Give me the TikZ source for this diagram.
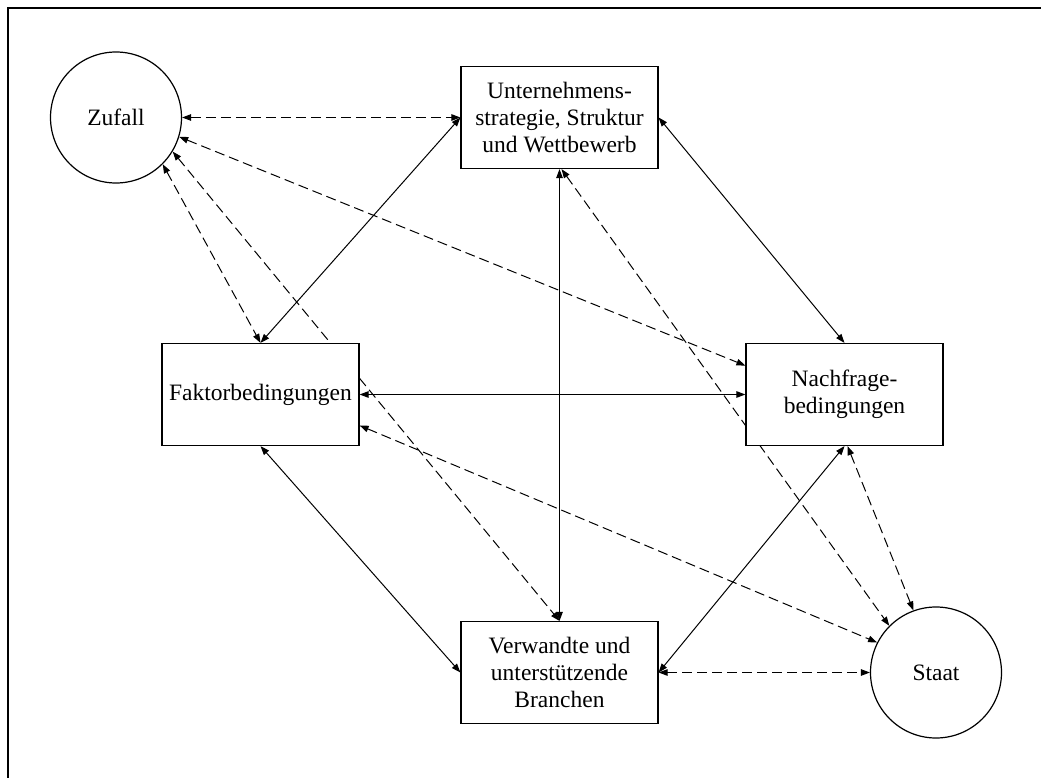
\documentclass[tikz,border=0pt]{standalone}
\usepackage{fontspec}
\setmainfont{Liberation Serif}
\usetikzlibrary{arrows.meta,calc}
\pgfdeclarelayer{links}
\pgfsetlayers{links,main}

\begin{document}
\begin{tikzpicture}[x=1pt,y=-1pt,
  label font/.style={font=\fontsize{23.5}{27}\selectfont},
  box/.style={draw, line width=1.2pt, fill=white, minimum width=197pt,
    minimum height=102pt, inner sep=0pt, align=center, label font},
  disc/.style={draw, circle, line width=1.2pt, fill=white,
    minimum size=131pt, inner sep=0pt, label font},
  tip/.tip={Triangle[length=9pt,width=6.5pt]},
  link/.style={line width=1pt, tip-tip},
  dlink/.style={link, dash pattern=on 10pt off 5pt}]

\useasboundingbox (0,0) rectangle (1041,778);

% frame
\draw[line width=1.5pt] (1041,8) -- (8,8) -- (8,778);

% factors of the diamond
\node[disc] (zuf) at (116,117.5) {Zufall};
\node[box] (unt) at (559.5,117.5) {Unternehmens-\\strategie, Struktur\\und Wettbewerb};
\node[box] (fak) at (260.5,394.5) {Faktorbedingungen};
\node[box] (nach) at (844.5,394.5) {Nachfrage-\\bedingungen};
\node[box] (ver) at (559.5,672.5) {Verwandte und\\unterstützende\\Branchen};
\node[disc] (sta) at (936,672.5) {Staat};

% attachment points off the standard anchors
\coordinate (nachA) at ($(nach.north west)!0.22!(nach.south west)$);
\coordinate (fakB) at ($(fak.north east)!0.8!(fak.south east)$);
\coordinate (nachS) at ($(nach.south)+(3,0)$);
\coordinate (untS) at ($(unt.south)+(2,0)$);

\begin{pgfonlayer}{links}
  % direct relations
  \draw[link] (fak.north) -- (unt.west);
  \draw[link] (unt.east) -- (nach.north);
  \draw[link] (fak.east) -- (nach.west);
  \draw[link] (unt.south) -- (ver.north);
  \draw[link] (fak.south) -- (ver.west);
  \draw[link] (ver.east) -- (nach.south);
  % influences of chance and state
  \draw[dlink] (zuf.east) -- (unt.west);
  \draw[dlink] (zuf.-17) -- (nachA);
  \draw[dlink] (zuf.-31) -- (ver.north);
  \draw[dlink] (zuf.-45) -- (fak.north);
  \draw[dlink] (fakB) -- (sta.153);
  \draw[dlink] (ver.east) -- (sta.west);
  \draw[dlink] (nachS) -- (sta.110);
  \draw[dlink] (untS) -- (sta.135);
\end{pgfonlayer}
\end{tikzpicture}
\end{document}
